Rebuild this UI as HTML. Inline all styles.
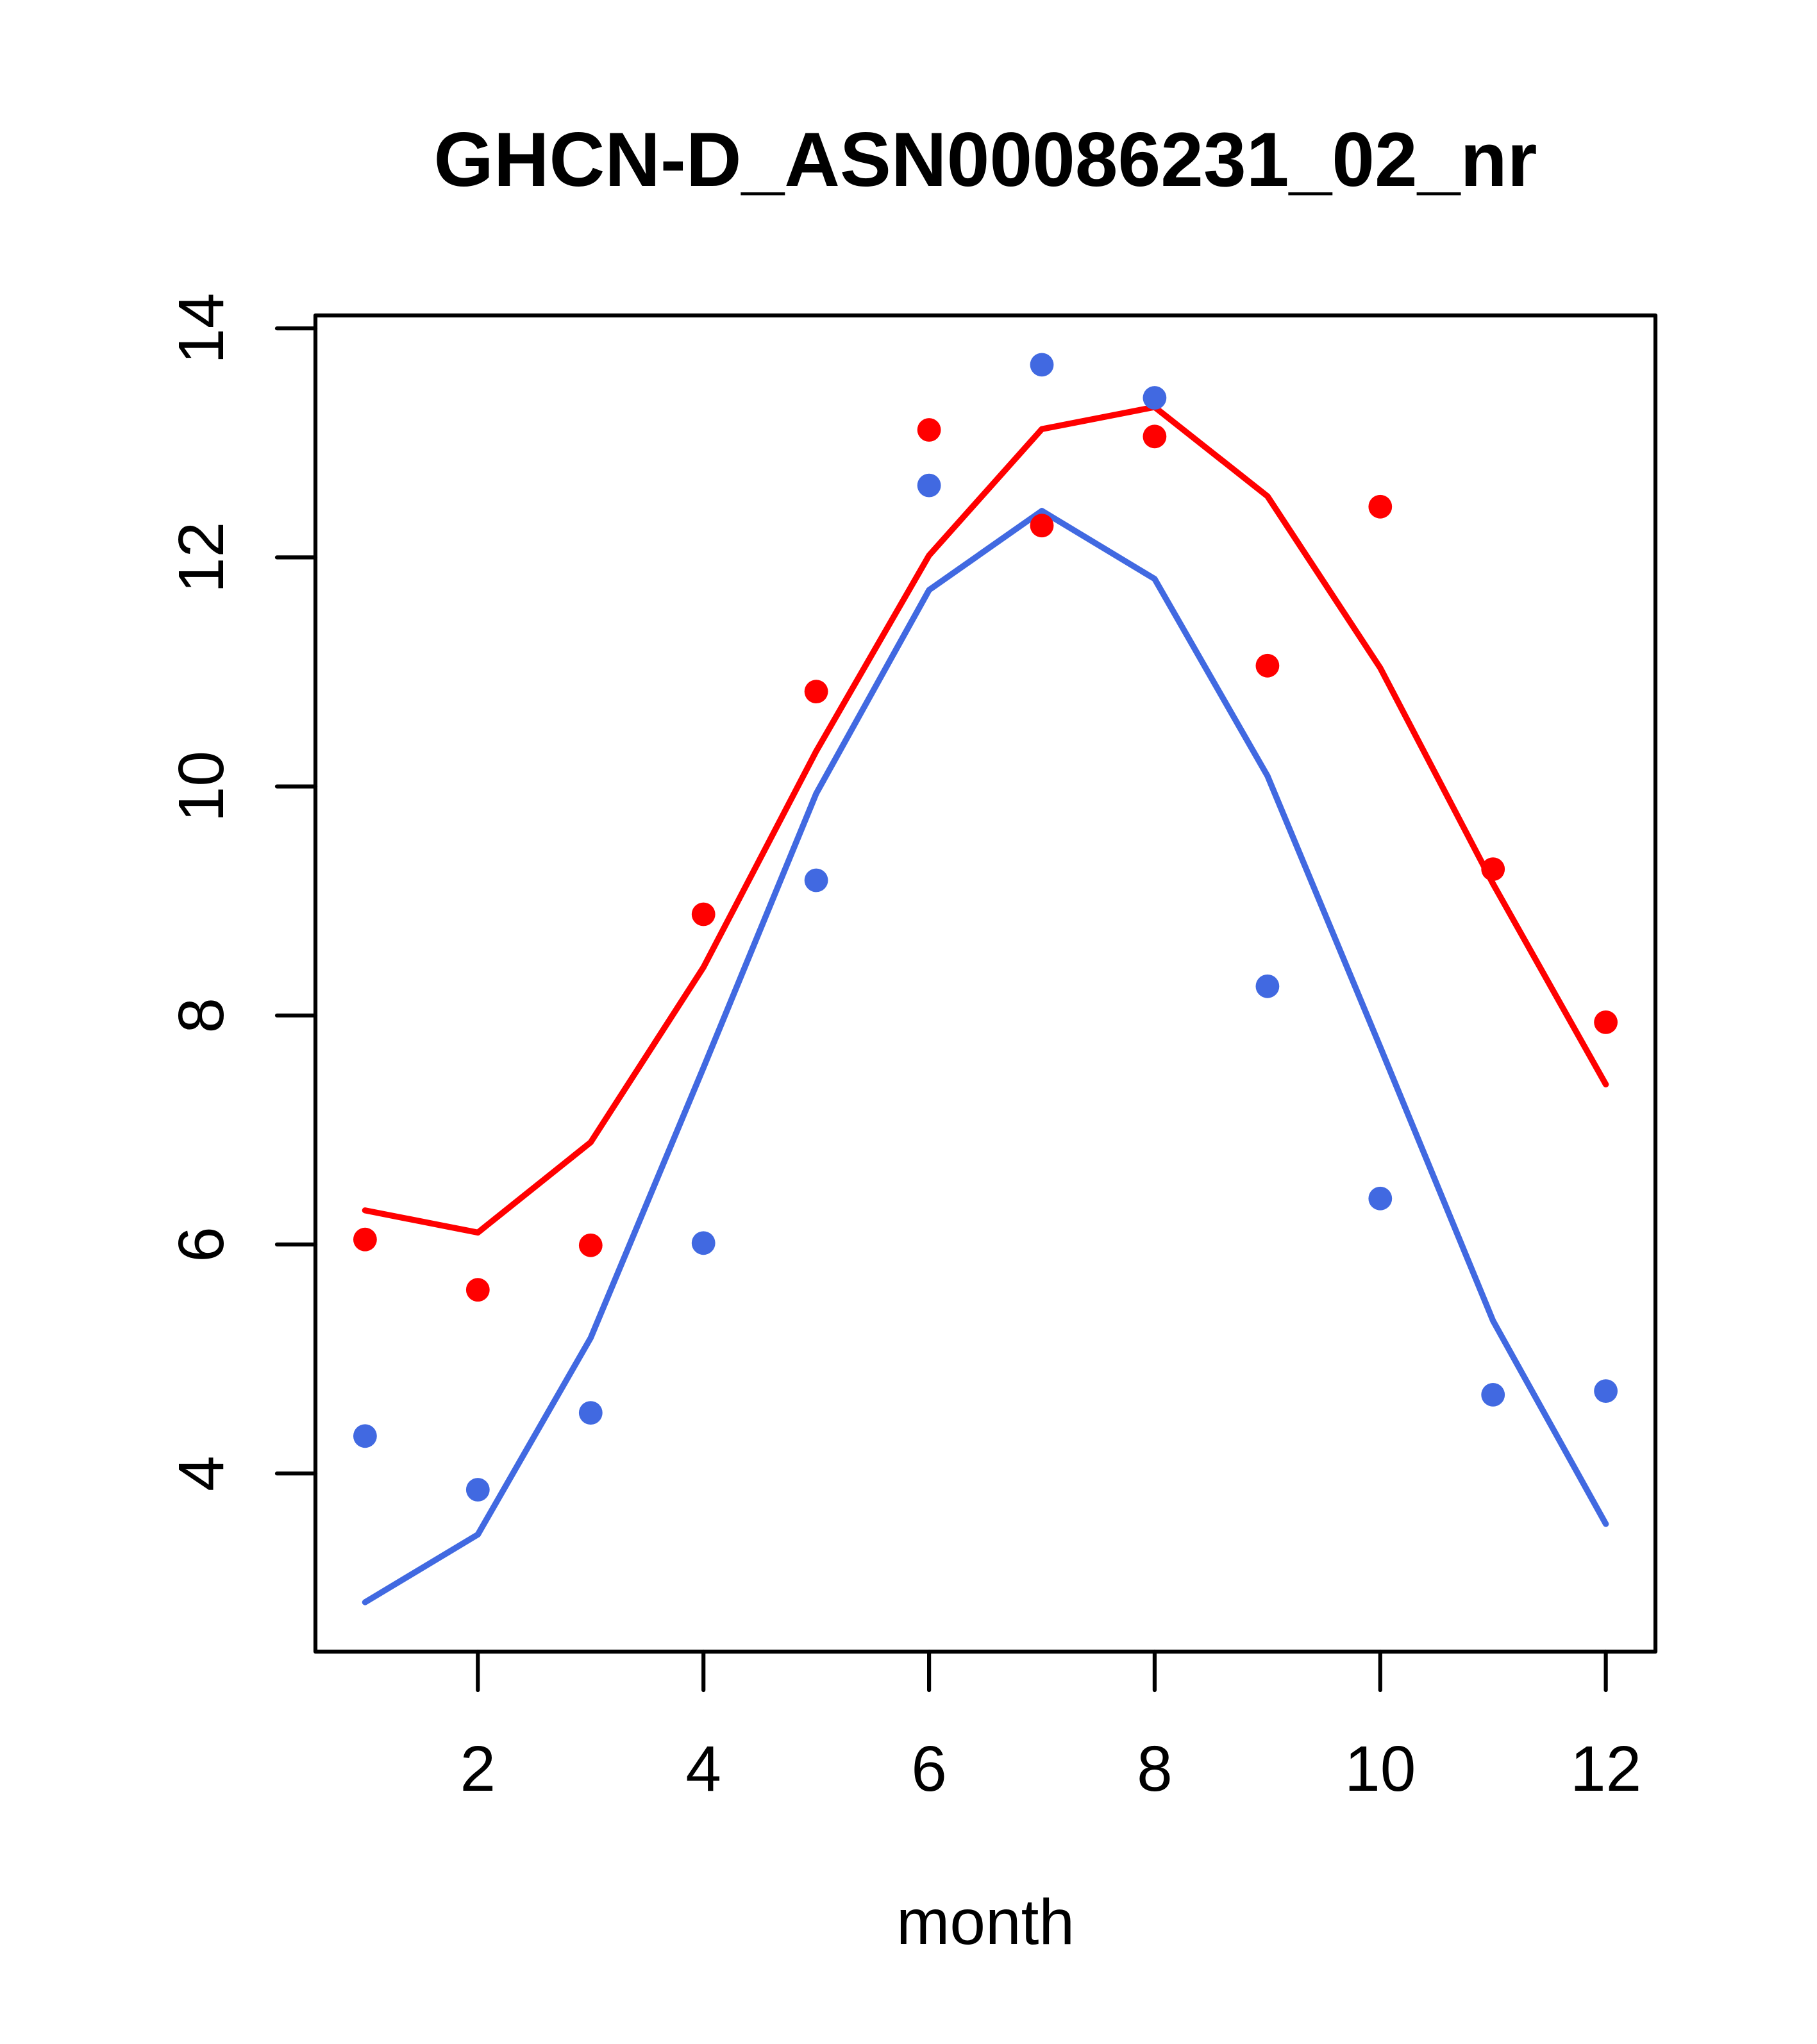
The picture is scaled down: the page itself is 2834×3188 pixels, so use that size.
<!DOCTYPE html>
<html>
<head>
<meta charset="utf-8">
<style>
  html, body { margin: 0; padding: 0; background: #ffffff; }
  svg { display: block; }
  text { font-family: "Liberation Sans", Arial, Helvetica, sans-serif; fill: #000; }
</style>
</head>
<body>
<svg width="2834" height="3188" viewBox="0 0 2834 3188" xmlns="http://www.w3.org/2000/svg">
  <rect x="0" y="0" width="2834" height="3188" fill="#ffffff"/>

  <!-- Title -->
  <text x="1537" y="290" font-size="120" font-weight="bold" text-anchor="middle">GHCN-D_ASN00086231_02_nr</text>

  <!-- Series lines -->
  <polyline fill="none" stroke="#FF0000" stroke-width="9.4" stroke-linecap="round" stroke-linejoin="round"
    points="569.4,1887.8 745.3,1922.4 921.3,1781.6 1097.2,1508.7 1273.1,1171.6 1449.1,866.2 1625.0,669.3 1800.9,634.9 1976.9,774 2152.8,1041.8 2328.7,1378.4 2504.6,1691.3"/>
  <polyline fill="none" stroke="#4169E1" stroke-width="9.4" stroke-linecap="round" stroke-linejoin="round"
    points="569.4,2499 745.3,2393.4 921.3,2086.7 1097.2,1665.3 1273.1,1237.6 1449.1,920.2 1625.0,796.8 1800.9,902.9 1976.9,1210.2 2152.8,1633 2328.7,2060 2504.6,2376.9"/>

  <!-- Red points -->
  <g fill="#FF0000">
    <circle cx="569.4" cy="1933.2" r="18.4"/>
    <circle cx="745.3" cy="2011.7" r="18.4"/>
    <circle cx="921.3" cy="1942.3" r="18.4"/>
    <circle cx="1097.2" cy="1426" r="18.4"/>
    <circle cx="1273.1" cy="1078.6" r="18.4"/>
    <circle cx="1449.1" cy="670.5" r="18.4"/>
    <circle cx="1625.0" cy="819.7" r="18.4"/>
    <circle cx="1800.9" cy="680.8" r="18.4"/>
    <circle cx="1976.9" cy="1038.3" r="18.4"/>
    <circle cx="2152.8" cy="790.3" r="18.4"/>
    <circle cx="2328.7" cy="1355.6" r="18.4"/>
    <circle cx="2504.6" cy="1594.4" r="18.4"/>
  </g>

  <!-- Blue points -->
  <g fill="#4169E1">
    <circle cx="569.4" cy="2239.8" r="18.4"/>
    <circle cx="745.3" cy="2323.5" r="18.4"/>
    <circle cx="921.3" cy="2203.6" r="18.4"/>
    <circle cx="1097.2" cy="1938.8" r="18.4"/>
    <circle cx="1273.1" cy="1373" r="18.4"/>
    <circle cx="1449.1" cy="757.1" r="18.4"/>
    <circle cx="1625.0" cy="568.9" r="18.4"/>
    <circle cx="1800.9" cy="620.5" r="18.4"/>
    <circle cx="1976.9" cy="1538.3" r="18.4"/>
    <circle cx="2152.8" cy="1869.3" r="18.4"/>
    <circle cx="2328.7" cy="2175.4" r="18.4"/>
    <circle cx="2504.6" cy="2169.6" r="18.4"/>
  </g>

  <!-- Plot box -->
  <rect x="492" y="492" width="2090" height="2084" fill="none" stroke="#000" stroke-width="6.2" stroke-linejoin="round"/>

  <!-- X axis ticks -->
  <g stroke="#000" stroke-width="6.2" stroke-linecap="round">
    <line x1="745.3" y1="2576" x2="745.3" y2="2636"/>
    <line x1="1097.2" y1="2576" x2="1097.2" y2="2636"/>
    <line x1="1449.1" y1="2576" x2="1449.1" y2="2636"/>
    <line x1="1800.9" y1="2576" x2="1800.9" y2="2636"/>
    <line x1="2152.8" y1="2576" x2="2152.8" y2="2636"/>
    <line x1="2504.6" y1="2576" x2="2504.6" y2="2636"/>
  </g>
  <g font-size="100" text-anchor="middle">
    <text x="745.3" y="2793">2</text>
    <text x="1097.2" y="2793">4</text>
    <text x="1449.1" y="2793">6</text>
    <text x="1800.9" y="2793">8</text>
    <text x="2152.8" y="2793">10</text>
    <text x="2504.6" y="2793">12</text>
  </g>

  <!-- Y axis ticks -->
  <g stroke="#000" stroke-width="6.2" stroke-linecap="round">
    <line x1="432" y1="2298.2" x2="492" y2="2298.2"/>
    <line x1="432" y1="1941" x2="492" y2="1941"/>
    <line x1="432" y1="1583.8" x2="492" y2="1583.8"/>
    <line x1="432" y1="1226.6" x2="492" y2="1226.6"/>
    <line x1="432" y1="869.4" x2="492" y2="869.4"/>
    <line x1="432" y1="512.2" x2="492" y2="512.2"/>
  </g>
  <g font-size="100" text-anchor="middle">
    <text transform="translate(348,2298.2) rotate(-90)">4</text>
    <text transform="translate(348,1941) rotate(-90)">6</text>
    <text transform="translate(348,1583.8) rotate(-90)">8</text>
    <text transform="translate(348,1226.6) rotate(-90)">10</text>
    <text transform="translate(348,869.4) rotate(-90)">12</text>
    <text transform="translate(348,512.2) rotate(-90)">14</text>
  </g>

  <!-- X axis label -->
  <text x="1537" y="3032" font-size="100" text-anchor="middle">month</text>
</svg>
</body>
</html>
